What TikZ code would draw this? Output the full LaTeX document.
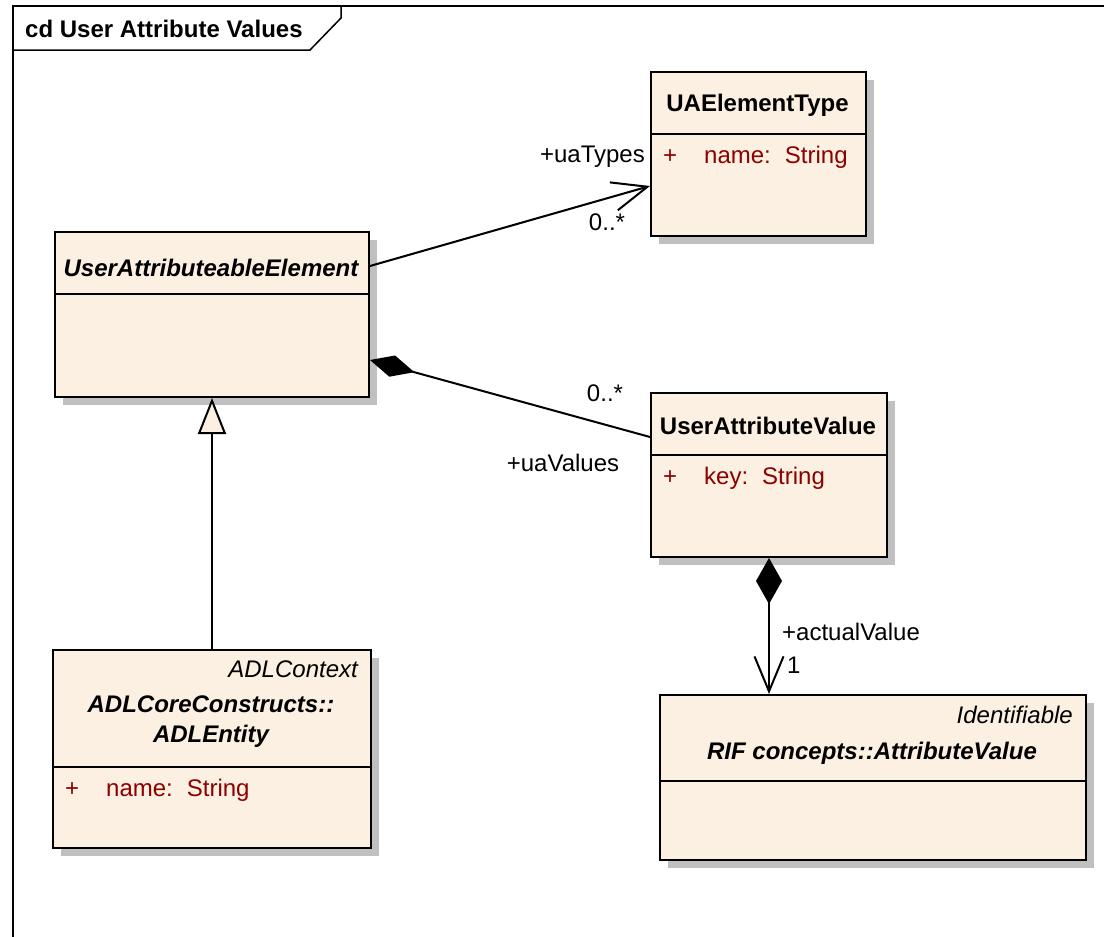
\documentclass[tikz,border=0pt]{standalone}
\usepackage{fontspec}
\setmainfont{Liberation Sans}
\usetikzlibrary{arrows.meta,shadows}

\definecolor{boxfill}{RGB}{251,240,225}
\definecolor{shadowgray}{RGB}{192,192,192}
\definecolor{attrred}{RGB}{140,0,0}

\tikzset{
  classbox/.style={draw, line width=2pt, fill=boxfill, inner sep=0pt, anchor=north west,
    drop shadow={shadow xshift=8pt, shadow yshift=-8pt, fill=shadowgray, opacity=1}},
  txt/.style={font=\fontsize{24}{30}\selectfont, inner sep=0pt},
  classname/.style={txt, font=\fontsize{24}{30}\selectfont\bfseries},
  classnameit/.style={txt, font=\fontsize{24}{30}\selectfont\bfseries\itshape},
  stereo/.style={txt, font=\fontsize{24}{30}\selectfont\itshape, anchor=east},
  attr/.style={txt, text=attrred, anchor=west},
  assoc/.style={line width=2pt},
  openarrow/.style={-{Straight Barb[length=35pt,width=29pt]}}
}

\begin{document}
\begin{tikzpicture}[x=1pt,y=-1pt]
\useasboundingbox (0,0) rectangle (1104,937);

% frame
\draw [line width=1.5pt] (13,937) -- (13,6) -- (1104,6);
\draw [line width=1.5pt] (13,50) -- (310,50) -- (341,18) -- (341,6);
\node [classname, anchor=west] (frametitle) at (25,29) {cd User Attribute Values};

% classes
\node [classbox, minimum width=314pt, minimum height=165pt] (uae) at (54,231) {};
\draw [line width=2pt] ([yshift=-63pt]uae.north west) -- ([yshift=-63pt]uae.north east);
\node [classnameit] (uaeTitle) at (211,268) {UserAttributeableElement};

\node [classbox, minimum width=215pt, minimum height=164pt] (uat) at (650,71) {};
\draw [line width=2pt] ([yshift=-63pt]uat.north west) -- ([yshift=-63pt]uat.north east);
\node [classname] (uatTitle) at (757.5,105) {UAElementType};
\node [attr] (uatAttr) at (663,157) {+\hspace{27pt}name:\hspace{14pt}String};

\node [classbox, minimum width=236pt, minimum height=164pt] (uav) at (650,392) {};
\draw [line width=2pt] ([yshift=-63pt]uav.north west) -- ([yshift=-63pt]uav.north east);
\node [classname] (uavTitle) at (768,426) {UserAttributeValue};
\node [attr] (uavAttr) at (663,478) {+\hspace{27pt}key:\hspace{14pt}String};

\node [classbox, minimum width=426pt, minimum height=165pt] (rif) at (659,694) {};
\draw [line width=2pt] ([yshift=-87pt]rif.north west) -- ([yshift=-87pt]rif.north east);
\node [stereo] (rifStereo) at (1073,715) {Identifiable};
\node [classnameit] (rifTitle) at (872,753) {RIF concepts::AttributeValue};

\node [classbox, minimum width=318pt, minimum height=198pt] (adl) at (52,649) {};
\draw [line width=2pt] ([yshift=-118pt]adl.north west) -- ([yshift=-118pt]adl.north east);
\node [stereo] (adlStereo) at (358,669) {ADLContext};
\node [classnameit, align=center] (adlTitle) at (211,722) {ADLCoreConstructs::\\ADLEntity};
\node [attr] (adlAttr) at (65,790) {+\hspace{27pt}name:\hspace{14pt}String};

% connectors
\draw [assoc, openarrow] ([yshift=-35pt]uae.north east) -- ([yshift=51pt]uat.south west);
\node [txt, anchor=east] (uatRole) at (645,157) {+uaTypes};
\node [txt] (uatMult) at (607,222) {0..*};

\draw [assoc, {Diamond[length=46pt,width=22pt]}-] ([yshift=38pt]uae.south east) -- ([yshift=-45pt]uav.north west);
\node [txt] (uavMult) at (605,393) {0..*};
\node [txt] (uavRole) at (563,463) {+uaValues};

\draw [assoc, {Diamond[length=46pt,width=26pt]}-{Straight Barb[length=35pt,width=29pt]}] (uav.south) -- (uav.south |- rif.north);
\node [txt, anchor=west] (rifRole) at (782,632) {+actualValue};
\node [txt, anchor=west] (rifMult) at (787,665) {1};

\draw [assoc, -{Triangle[open,length=36pt,width=28pt,fill=boxfill]}] (adl.north) -- (uae.south);
\end{tikzpicture}
\end{document}
